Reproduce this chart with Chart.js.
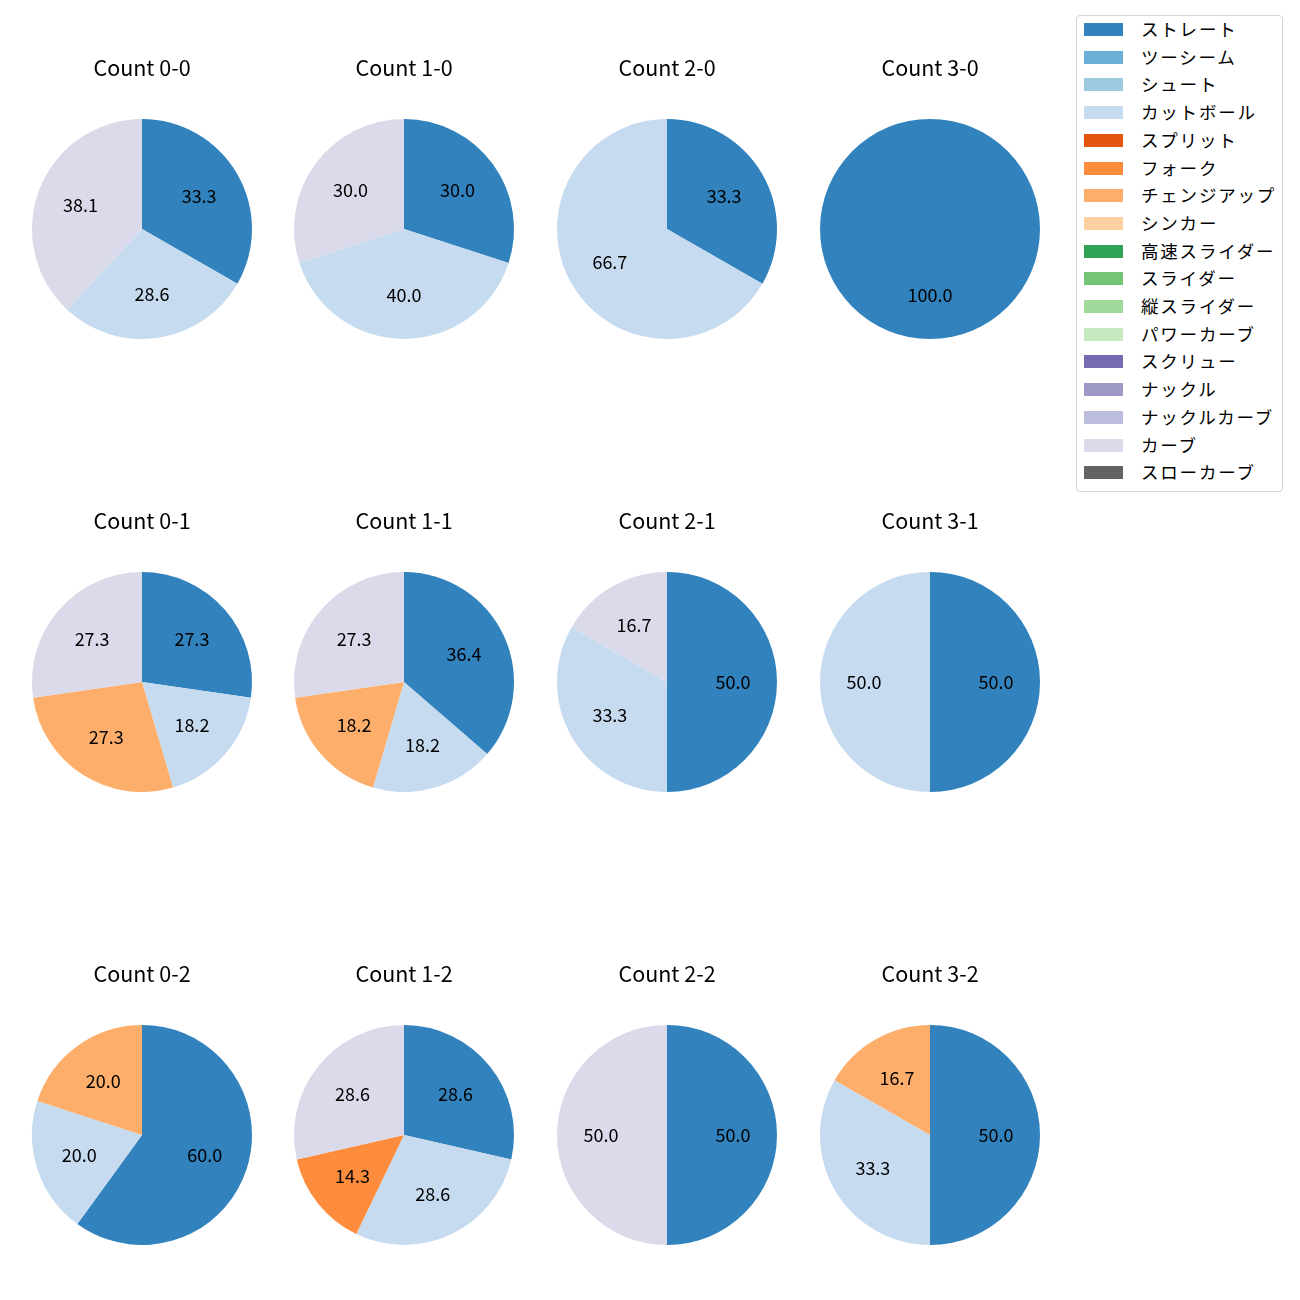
<!DOCTYPE html>
<html>
<head>
<meta charset="utf-8">
<script src="https://cdn.jsdelivr.net/npm/chart.js@4.4.1/dist/chart.umd.min.js"></script>
<style>
  body { margin: 0; background: #fff; }
  #wrap { position: relative; width: 1300px; height: 1300px; font-family: "Noto Sans CJK JP", "Noto Sans", sans-serif; }
  #wrap canvas { position: absolute; }
  #legend {
    position: absolute; left: 1076px; top: 15px; width: 207px; height: 477px;
    border: 1px solid #d5d5d5; border-radius: 4px; box-sizing: border-box;
  }
  .lg-item { position: absolute; left: 0; height: 20px; width: 100%; }
  .lg-box { position: absolute; left: 7px; top: 3px; width: 39px; height: 13px; }
  .lg-text { position: absolute; left: 64px; top: -3px; font-size: 17.5px; line-height: 24px; letter-spacing: 1.8px; color: #000; white-space: nowrap; }
</style>
</head>
<body>
<div id="wrap"><div id="legend"></div></div>
<script>
// 球種 (matplotlib tab20c の並び)
const pitchNames = ['ストレート', 'ツーシーム', 'シュート', 'カットボール', 'スプリット', 'フォーク',
  'チェンジアップ', 'シンカー', '高速スライダー', 'スライダー', '縦スライダー', 'パワーカーブ',
  'スクリュー', 'ナックル', 'ナックルカーブ', 'カーブ', 'スローカーブ'];
const pitchColors = ['#3182bd', '#6baed6', '#9ecae1', '#c6dbef', '#e6550d', '#fd8d3c',
  '#fdae6b', '#fdd0a2', '#31a354', '#74c476', '#a1d99b', '#c7e9c0',
  '#756bb1', '#9e9ac8', '#bcbddc', '#dadaeb', '#636363'];

const countLabels = ['0-0', '1-0', '2-0', '3-0', '0-1', '1-1', '2-1', '3-1', '0-2', '1-2', '2-2', '3-2'];

// 各カウントの割合 (%), pitchNames と同じ順
//               ス   ツ  シュ  カッ  スプ  フォ  チェ  シン  高ス  スラ  縦ス  パワ  スク  ナッ  ナカ  カー  スロ
const count00 = [33.3, 0, 0, 28.6, 0, 0, 0, 0, 0, 0, 0, 0, 0, 0, 0, 38.1, 0];
const count10 = [30.0, 0, 0, 40.0, 0, 0, 0, 0, 0, 0, 0, 0, 0, 0, 0, 30.0, 0];
const count20 = [33.3, 0, 0, 66.7, 0, 0, 0, 0, 0, 0, 0, 0, 0, 0, 0, 0, 0];
const count30 = [100.0, 0, 0, 0, 0, 0, 0, 0, 0, 0, 0, 0, 0, 0, 0, 0, 0];
const count01 = [27.3, 0, 0, 18.2, 0, 0, 27.3, 0, 0, 0, 0, 0, 0, 0, 0, 27.3, 0];
const count11 = [36.4, 0, 0, 18.2, 0, 0, 18.2, 0, 0, 0, 0, 0, 0, 0, 0, 27.3, 0];
const count21 = [50.0, 0, 0, 33.3, 0, 0, 0, 0, 0, 0, 0, 0, 0, 0, 0, 16.7, 0];
const count31 = [50.0, 0, 0, 50.0, 0, 0, 0, 0, 0, 0, 0, 0, 0, 0, 0, 0, 0];
const count02 = [60.0, 0, 0, 20.0, 0, 0, 20.0, 0, 0, 0, 0, 0, 0, 0, 0, 0, 0];
const count12 = [28.6, 0, 0, 28.6, 0, 14.3, 0, 0, 0, 0, 0, 0, 0, 0, 0, 28.6, 0];
const count22 = [50.0, 0, 0, 0, 0, 0, 0, 0, 0, 0, 0, 0, 0, 0, 0, 50.0, 0];
const count32 = [50.0, 0, 0, 33.3, 0, 0, 16.7, 0, 0, 0, 0, 0, 0, 0, 0, 0, 0];

const countValues = [count00, count10, count20, count30, count01, count11, count21, count31,
  count02, count12, count22, count32];

const FONT = '"Noto Sans CJK JP", "Noto Sans", sans-serif';

// 割合ラベルとタイトルを描くプラグイン
const pieText = {
  id: 'pieText',
  afterDatasetsDraw(chart, args, opts) {
    const ctx = chart.ctx;
    const meta = chart.getDatasetMeta(0);
    const vals = chart.data.datasets[0].data;
    const total = vals.reduce((a, b) => a + b, 0);
    ctx.save();
    ctx.fillStyle = '#000';
    ctx.textAlign = 'center';
    ctx.textBaseline = 'middle';
    ctx.font = '18px ' + FONT;
    meta.data.forEach((arc, i) => {
      if (!vals[i]) return;
      const p = arc.getProps(['x', 'y', 'startAngle', 'endAngle', 'outerRadius'], true);
      const mid = (p.startAngle + p.endAngle) / 2;
      const r = p.outerRadius * 0.6;
      ctx.fillText((vals[i] / total * 100).toFixed(1), p.x + Math.cos(mid) * r, p.y + Math.sin(mid) * r);
    });
    ctx.font = '21.5px ' + FONT;
    const a = chart.chartArea;
    ctx.fillText(opts.title, (a.left + a.right) / 2, a.top + (a.bottom - a.top) / 2 - 161);
    ctx.restore();
  }
};

const colX = [142, 404, 667, 930];
const rowY = [229, 682, 1135];
const wrap = document.getElementById('wrap');

countLabels.forEach((label, k) => {
  const cx = colX[k % 4], cy = rowY[Math.floor(k / 4)];
  const cv = document.createElement('canvas');
  cv.width = 262; cv.height = 400;
  cv.style.width = '262px'; cv.style.height = '400px';
  cv.style.left = (cx - 131) + 'px';
  cv.style.top = (cy - 290) + 'px';
  wrap.appendChild(cv);
  new Chart(cv, {
    type: 'pie',
    data: {
      labels: pitchNames,
      datasets: [{ data: countValues[k], backgroundColor: pitchColors, borderWidth: 0 }]
    },
    options: {
      responsive: false,
      animation: false,
      layout: { padding: { top: 180, left: 21, right: 21, bottom: 0 } },
      plugins: {
        legend: { display: false },
        tooltip: { enabled: false },
        pieText: { title: 'Count ' + label }
      }
    },
    plugins: [pieText]
  });
});

// 凡例
const legend = document.getElementById('legend');
pitchNames.forEach((name, i) => {
  const item = document.createElement('div');
  item.className = 'lg-item';
  item.style.top = (4 + i * 27.7) + 'px';
  item.innerHTML = '<div class="lg-box" style="background:' + pitchColors[i] + '"></div>' +
    '<div class="lg-text">' + name + '</div>';
  legend.appendChild(item);
});
</script>
</body>
</html>
